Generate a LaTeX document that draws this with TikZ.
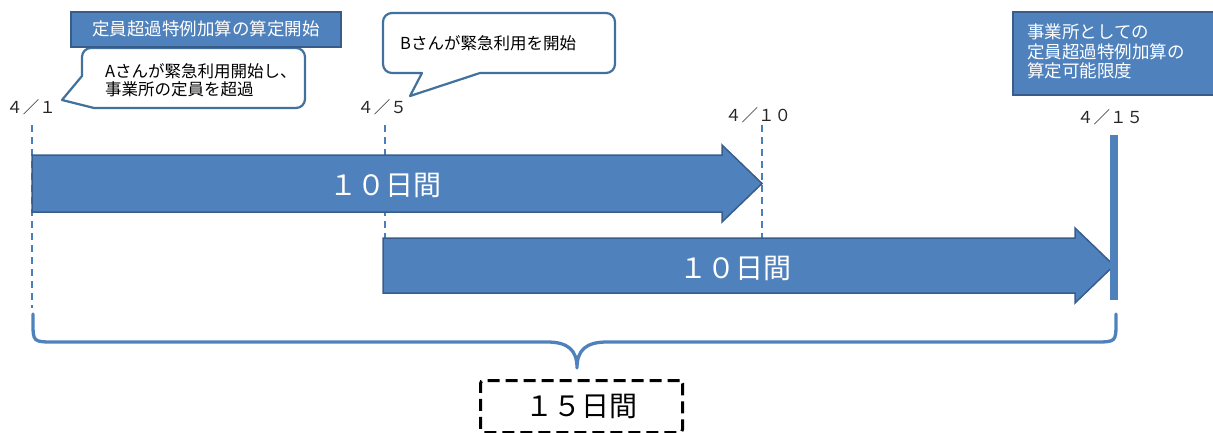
\documentclass[tikz,border=0pt]{standalone}
\usepackage{fontspec}
\setmainfont{Noto Sans CJK JP}
\definecolor{bfill}{HTML}{4F81BD}
\definecolor{bdraw}{HTML}{385D8A}
\definecolor{cdraw}{HTML}{41719C}
\definecolor{guidec}{HTML}{4A7EBB}
\definecolor{txt}{HTML}{262626}
\begin{document}
\begin{tikzpicture}[x=1pt,y=-1pt,
  bluebox/.style={draw=bdraw,line width=1.5pt,fill=bfill,text=white,inner sep=0pt},
  callout/.style={draw=cdraw,line width=2.2pt,fill=white,line join=round},
  guide/.style={draw=guidec,line width=1.8pt,dash pattern=on 7pt off 5pt},
  bigarrow/.style={draw=bdraw,line width=1.5pt,fill=bfill},
  arrowtext/.style={text=white,font=\fontsize{28}{30}\selectfont,inner sep=0pt},
  datelbl/.style={text=txt,font=\fontsize{16.5}{18}\selectfont,inner sep=0pt},
  calltext/.style={text=black,font=\fontsize{16.5}{17.5}\selectfont,inner sep=0pt,align=left,anchor=west},
  bracestyle/.style={draw=bfill,line width=3.3pt,line cap=round,line join=round},
  totalbox/.style={draw=black,line width=3pt,dash pattern=on 12pt off 6pt,rounded corners=3pt,fill=white,
     minimum width=202pt,minimum height=52pt,inner sep=0pt,font=\fontsize{28}{30}\selectfont}]
\useasboundingbox (0,0) rectangle (1213,432);

% guide lines
\coordinate (g1t) at (32,125); \coordinate (g1b) at (32,308);
\coordinate (g5t) at (385,125); \coordinate (g5b) at (385,238);
\coordinate (g10t) at (762,125); \coordinate (g10b) at (762,238);
\draw[guide] (g1t) -- (g1b);
\draw[guide] (g5t) -- (g5b);

% arrow 1
\draw[bigarrow] (32,155) -- (722,155) -- (722,145) -- (762,183.5) -- (722,222) -- (722,212) -- (32,212) -- cycle;
\node[arrowtext] (a1) at (385,185) {１０日間};
\draw[guide] (g10t) -- (g10b);

% arrow 2
\draw[bigarrow] (383,238) -- (1075,238) -- (1075,228) -- (1114,265.5) -- (1075,303) -- (1075,293) -- (383,293) -- cycle;
\node[arrowtext] (a2) at (735,268) {１０日間};

% limit bar
\fill[bfill] (1110,135) rectangle (1118,300);

% date labels
\node[datelbl] (d1) at (31,107) {４／１};
\node[datelbl] (d5) at (382,107) {４／５};
\node[datelbl] (d10) at (758,115) {４／１０};
\node[datelbl] (d15) at (1110,117) {４／１５};

% callout A
\draw[callout] (62,100) -- (94,108) [rounded corners=9pt] -- (305,108) -- (305,48) -- (82,48) [sharp corners] -- (82,76) -- cycle;
\node[calltext] (ca) at (105,80) {Aさんが緊急利用開始し、\\事業所の定員を超過};

% start box
\node[bluebox,anchor=north west,minimum width=270pt,minimum height=35pt,font=\fontsize{17.5}{19}\selectfont] (start) at (70,11) {定員超過特例加算の算定開始};

% callout B
\draw[callout] (410,96) -- (422,73) [rounded corners=9pt] -- (383,73) -- (383,13) -- (615,13) -- (615,73) [sharp corners] -- (480,73) -- cycle;
\node[calltext] (cb) at (400,43) {Bさんが緊急利用を開始};

% limit box
\node[bluebox,anchor=north west,minimum width=215pt,minimum height=83pt] (limit) at (1012,11) {};
\node[anchor=north west,text=white,inner sep=0pt,align=left,font=\fontsize{17.5}{19.5}\selectfont] (limittext) at (1027,24) {事業所としての\\定員超過特例加算の\\算定可能限度};

% brace
\draw[bracestyle] (33,314) -- (33,322) .. controls (33,342) .. (55,342) -- (547,342)
  .. controls (568,342) and (577,350) .. (577,368)
  .. controls (577,350) and (586,342) .. (607,342) -- (1094,342)
  .. controls (1116,342) .. (1116,322) -- (1116,314);

% total box
\node[totalbox,anchor=north west] (total) at (479,379) {１５日間};
\end{tikzpicture}
\end{document}
